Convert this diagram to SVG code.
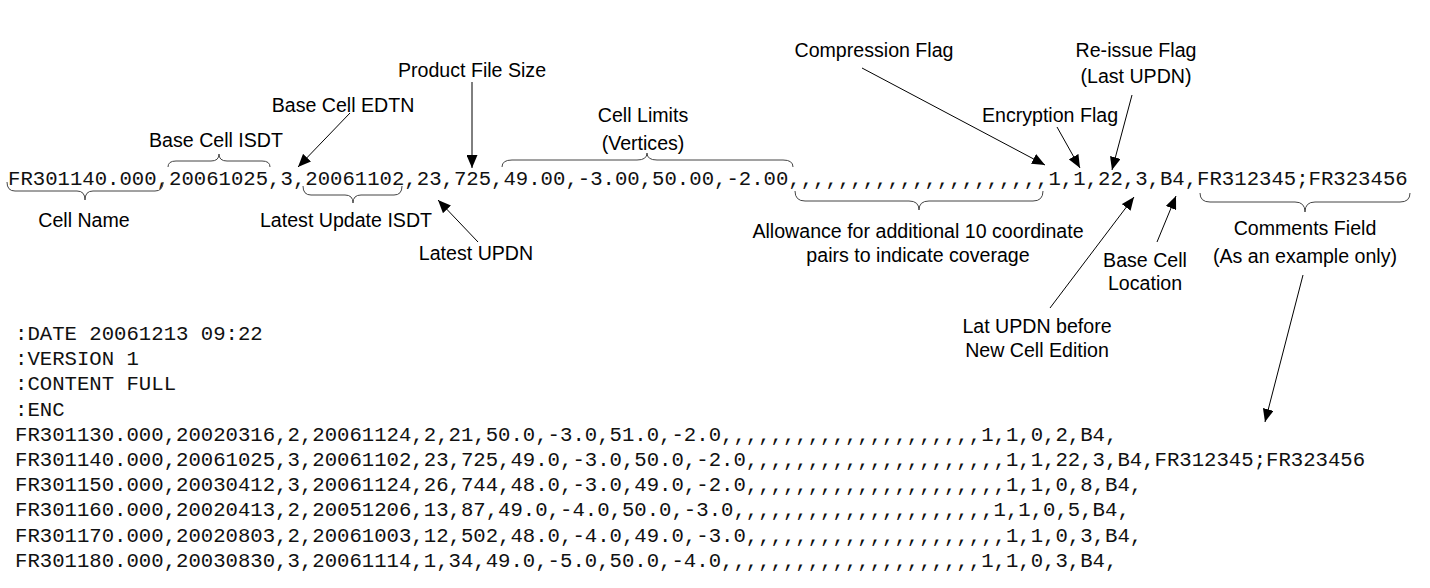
<svg xmlns="http://www.w3.org/2000/svg" width="1430" height="588" viewBox="0 0 1430 588">
<style>
.mono{font-family:"Liberation Mono","Courier New",monospace;font-size:20.65px;fill:#111}
.lbl{font-family:"Liberation Sans",Arial,sans-serif;font-size:19.6px;fill:#000;text-anchor:middle}
.brace{fill:none;stroke:#444;stroke-width:1}
.arr{fill:none;stroke:#000;stroke-width:1;marker-end:url(#ah)}
</style>
<defs>
<marker id="ah" markerUnits="userSpaceOnUse" markerWidth="14" markerHeight="11" refX="13" refY="5.5" orient="auto">
<path d="M0,0 L13,5.5 L0,11 Z" fill="#000"/>
</marker>
</defs>
<rect width="1430" height="588" fill="#fff"/>
<g id="record">
<text class="mono" x="8" y="185">FR301140.000,20061025,3,20061102,23,725,49.00,-3.00,50.00,-2.00,,,,,,,,,,,,,,,,,,,,,1,1,22,3,B4,FR312345;FR323456</text>
</g>
<g id="braces">
<path class="brace" d="M7,182 Q7,191 15,191 L77,191 Q85,191 85,200 Q85,191 93,191 L155,191 Q163,191 163,182"/>
<path class="brace" d="M168,167 Q168,161 176,161 L211,161 Q219,161 219,154 Q219,161 227,161 L262,161 Q270,161 270,167"/>
<path class="brace" d="M303,186 Q303,195 311,195 L345,195 Q353,195 353,203 Q353,195 361,195 L394,195 Q402,195 402,186"/>
<path class="brace" d="M502,167 Q502,160 512,160 L637,160 Q647,160 647,153 Q647,160 657,160 L783,160 Q793,160 793,167"/>
<path class="brace" d="M795,191 Q795,201 805,201 L909,201 Q919,201 919,210 Q919,201 929,201 L1033,201 Q1043,201 1043,191"/>
<path class="brace" d="M1200,193 Q1200,202 1210,202 L1295,202 Q1305,202 1305,212 Q1305,202 1315,202 L1400,202 Q1410,202 1410,193"/>
</g>
<g id="connectors">
<line class="arr" x1="350" y1="113" x2="298" y2="167"/>
<line class="arr" x1="472" y1="82" x2="472" y2="168"/>
<line class="arr" x1="478" y1="242" x2="438" y2="200"/>
<line class="arr" x1="862" y1="68" x2="1045" y2="165"/>
<line class="arr" x1="1057" y1="127" x2="1080" y2="168"/>
<line class="arr" x1="1132" y1="95" x2="1112" y2="170"/>
<line class="arr" x1="1050" y1="308" x2="1134" y2="197"/>
<line class="arr" x1="1157" y1="242" x2="1176" y2="196"/>
<line class="arr" x1="1303" y1="275" x2="1265" y2="422"/>
</g>
<g id="label-product-file-size"><text class="lbl" x="472" y="77">Product File Size</text></g>
<g id="label-base-cell-edtn"><text class="lbl" x="343" y="112">Base Cell EDTN</text></g>
<g id="label-base-cell-isdt"><text class="lbl" x="216" y="147">Base Cell ISDT</text></g>
<g id="label-cell-name"><text class="lbl" x="84" y="227">Cell Name</text></g>
<g id="label-latest-update-isdt"><text class="lbl" x="346" y="227">Latest Update ISDT</text></g>
<g id="label-latest-updn"><text class="lbl" x="476" y="260">Latest UPDN</text></g>
<g id="label-cell-limits"><text class="lbl" x="643" y="122">Cell Limits</text><text class="lbl" x="643" y="150">(Vertices)</text></g>
<g id="label-compression-flag"><text class="lbl" x="874" y="57">Compression Flag</text></g>
<g id="label-reissue-flag"><text class="lbl" x="1136" y="57">Re-issue Flag</text><text class="lbl" x="1136" y="83">(Last UPDN)</text></g>
<g id="label-encryption-flag"><text class="lbl" x="1050" y="122">Encryption Flag</text></g>
<g id="label-allowance"><text class="lbl" x="918" y="238">Allowance for additional 10 coordinate</text><text class="lbl" x="918" y="262">pairs to indicate coverage</text></g>
<g id="label-comments-field"><text class="lbl" x="1305" y="235">Comments Field</text><text class="lbl" x="1305" y="263">(As an example only)</text></g>
<g id="label-base-cell-location"><text class="lbl" x="1145" y="267">Base Cell</text><text class="lbl" x="1145" y="290">Location</text></g>
<g id="label-lat-updn-before"><text class="lbl" x="1037" y="333">Lat UPDN before</text><text class="lbl" x="1037" y="357">New Cell Edition</text></g>
<g id="file-listing">
<text class="mono" x="15" y="340">:DATE 20061213 09:22</text>
<text class="mono" x="15" y="365.2">:VERSION 1</text>
<text class="mono" x="15" y="390.4">:CONTENT FULL</text>
<text class="mono" x="15" y="415.6">:ENC</text>
<text class="mono" x="15" y="440.8">FR301130.000,20020316,2,20061124,2,21,50.0,-3.0,51.0,-2.0,,,,,,,,,,,,,,,,,,,,,1,1,0,2,B4,</text>
<text class="mono" x="15" y="466">FR301140.000,20061025,3,20061102,23,725,49.0,-3.0,50.0,-2.0,,,,,,,,,,,,,,,,,,,,,1,1,22,3,B4,FR312345;FR323456</text>
<text class="mono" x="15" y="491.2">FR301150.000,20030412,3,20061124,26,744,48.0,-3.0,49.0,-2.0,,,,,,,,,,,,,,,,,,,,,1,1,0,8,B4,</text>
<text class="mono" x="15" y="516.4">FR301160.000,20020413,2,20051206,13,87,49.0,-4.0,50.0,-3.0,,,,,,,,,,,,,,,,,,,,,1,1,0,5,B4,</text>
<text class="mono" x="15" y="541.6">FR301170.000,20020803,2,20061003,12,502,48.0,-4.0,49.0,-3.0,,,,,,,,,,,,,,,,,,,,,1,1,0,3,B4,</text>
<text class="mono" x="15" y="566.8">FR301180.000,20030830,3,20061114,1,34,49.0,-5.0,50.0,-4.0,,,,,,,,,,,,,,,,,,,,,1,1,0,3,B4,</text>
</g>
</svg>
